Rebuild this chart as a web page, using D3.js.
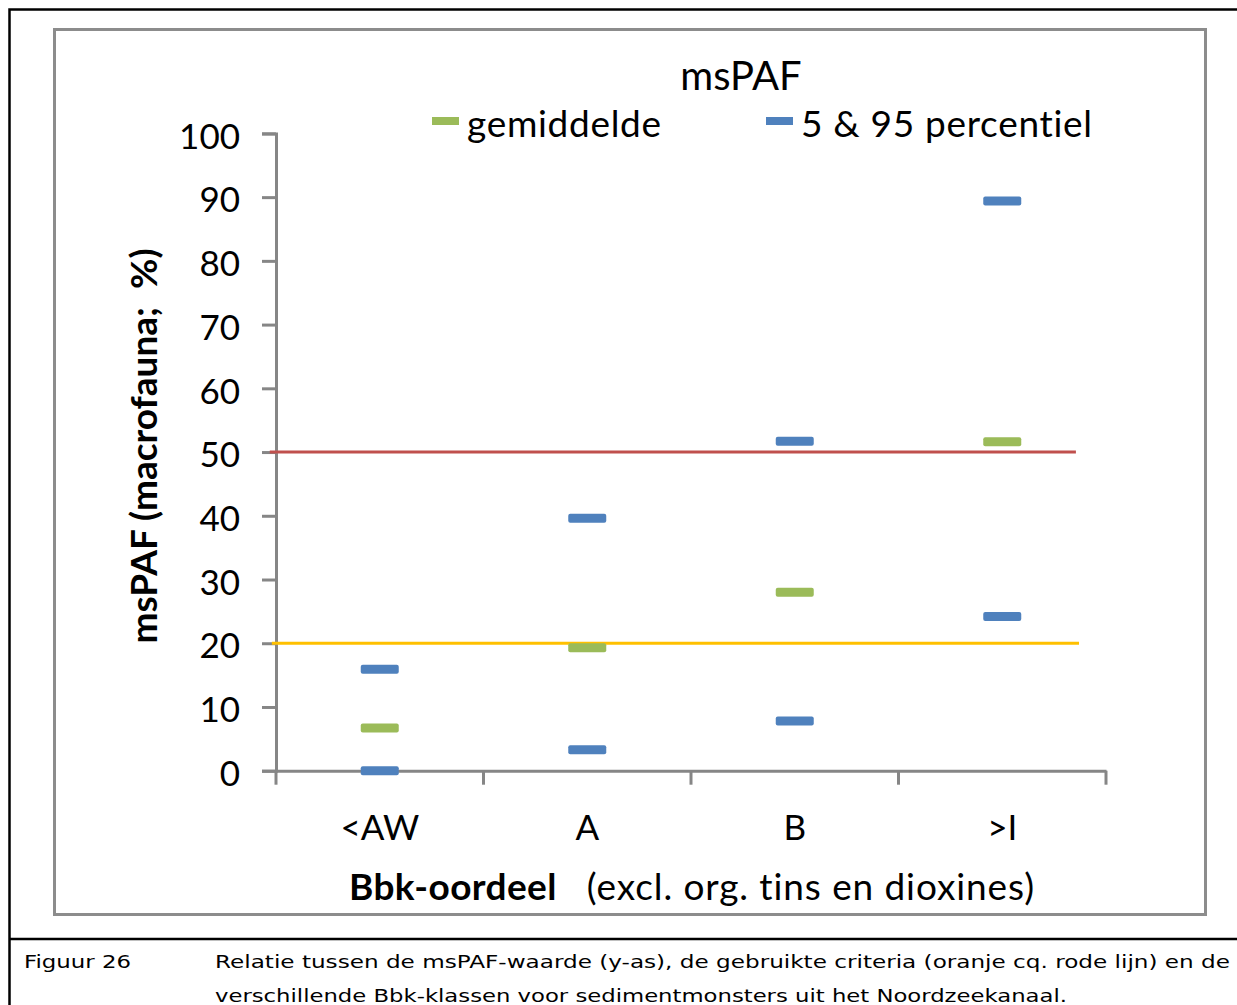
<!DOCTYPE html>
<html>
<head>
<meta charset="utf-8">
<script src="https://cdn.jsdelivr.net/npm/d3@7"></script>
<style>
  html, body { margin: 0; padding: 0; background: #fff; }
  svg { display: block; }
</style>
</head>
<body>
<svg id="fig" width="1237" height="1005"></svg>
<script>
// Bbk classes on the x axis
const categories = ["<AW", "A", "B", ">I"];
// mean msPAF per class (%)
const meanValues = [6.7, 19.3, 28.0, 51.6];
// 5th and 95th percentile per class (%)
const p5Values = [0.0, 3.3, 7.8, 24.2];
const p95Values = [15.9, 39.6, 51.7, 89.4];
// y axis ticks
const yTicks = [0, 10, 20, 30, 40, 50, 60, 70, 80, 90, 100];
// criteria lines (msPAF %)
const criteriaNames = ["oranje", "rood"];
const criteriaValues = [20, 50];

const legendLabels = ["gemiddelde", "5 & 95 percentiel"];
const chartTitle = "msPAF";
const yTitle = "msPAF (macrofauna;  %)";
const captionLabel = "Figuur 26";
const captionLines = [
  "Relatie tussen de msPAF-waarde (y-as), de gebruikte criteria (oranje cq. rode lijn) en de",
  "verschillende Bbk-klassen voor sedimentmonsters uit het Noordzeekanaal."
];

const GREEN = "#9bbb59", BLUE = "#4f81bd", AXIS = "#868686";
const criteriaColors = { oranje: "#ffc000", rood: "#c0504d" };
const chartFont = "Lato, 'Open Sans', sans-serif";

const svg = d3.select("#fig");

// outer figure frame (right edge runs off the page)
svg.append("path")
  .attr("d", "M1240,9.5 H9.5 V1010")
  .attr("fill", "none").attr("stroke", "#000").attr("stroke-width", 2.5);
svg.append("line")
  .attr("x1", 9).attr("x2", 1240).attr("y1", 939).attr("y2", 939)
  .attr("stroke", "#000").attr("stroke-width", 2.5);

// chart area border
svg.append("rect")
  .attr("x", 54.5).attr("y", 29.5).attr("width", 1151).attr("height", 885)
  .attr("fill", "#fff").attr("stroke", "#8c8c8c").attr("stroke-width", 3);

const x = d3.scaleBand().domain(categories).range([276, 1106]).padding(0);
const y = d3.scaleLinear().domain([0, 100]).range([770.7, 133.4]);
// continuous x position in category units for the criteria lines
const xc = d3.scaleLinear().domain([0, categories.length]).range([276, 1106]);

// y axis
const yAxis = svg.append("g")
  .attr("transform", "translate(276,0)")
  .call(d3.axisLeft(y).tickValues(yTicks).tickSize(14).tickPadding(22));
yAxis.select(".domain").attr("stroke", AXIS).attr("stroke-width", 3);
yAxis.selectAll(".tick line").attr("stroke", AXIS).attr("stroke-width", 3);
yAxis.selectAll(".tick text")
  .attr("fill", "#000").attr("font-family", chartFont).attr("font-size", 35)
  .attr("dy", "0.42em");

// x axis with ticks between categories
const xAxis = svg.append("g")
  .attr("transform", `translate(0,${y(0)})`)
  .call(d3.axisBottom(x).tickSize(0).tickPadding(44));
xAxis.select(".domain").attr("stroke", AXIS).attr("stroke-width", 3);
xAxis.selectAll(".tick text")
  .attr("fill", "#000").attr("font-family", chartFont).attr("font-size", 35);
xAxis.selectAll(".cat-tick")
  .data(d3.range(categories.length + 1))
  .join("line")
  .attr("class", "cat-tick")
  .attr("x1", d => xc(d)).attr("x2", d => xc(d))
  .attr("y1", 0).attr("y2", 14)
  .attr("stroke", AXIS).attr("stroke-width", 3);

// criteria lines
const critExtent = { oranje: [-0.02, 3.87], rood: [-0.03, 3.855] };
svg.selectAll(".criterion")
  .data(criteriaNames.map((n, i) => ({ name: n, value: criteriaValues[i] })))
  .join("line")
  .attr("class", "criterion")
  .attr("x1", d => xc(critExtent[d.name][0]))
  .attr("x2", d => xc(critExtent[d.name][1]))
  .attr("y1", d => y(d.value)).attr("y2", d => y(d.value))
  .attr("stroke", d => criteriaColors[d.name]).attr("stroke-width", 3);

// dash markers
const markW = 38, markH = 9;
function drawMarks(values, color, cls) {
  svg.selectAll("." + cls)
    .data(values.map((v, i) => ({ cat: categories[i], v })))
    .join("rect")
    .attr("class", cls)
    .attr("x", d => x(d.cat) + x.bandwidth() / 2 - markW / 2)
    .attr("y", d => y(d.v) - markH / 2)
    .attr("width", markW).attr("height", markH)
    .attr("rx", 2)
    .attr("fill", color);
}
drawMarks(meanValues, GREEN, "mean");
drawMarks(p5Values, BLUE, "p5");
drawMarks(p95Values, BLUE, "p95");

// title
svg.append("text")
  .attr("x", 741).attr("y", 90)
  .attr("text-anchor", "middle")
  .attr("font-family", chartFont).attr("font-size", 40)
  .text(chartTitle);

// legend
const legendX = [432, 766];
const legendColors = [GREEN, BLUE];
const lg = svg.selectAll(".legend")
  .data(legendLabels)
  .join("g")
  .attr("class", "legend")
  .attr("transform", (d, i) => `translate(${legendX[i]},121)`);
lg.append("rect")
  .attr("x", 0).attr("y", -4).attr("width", 27).attr("height", 8)
  .attr("fill", (d, i) => legendColors[i]);
lg.append("text")
  .attr("x", 35).attr("y", 16)
  .attr("font-family", chartFont).attr("font-size", 37)
  .attr("letter-spacing", 0.7)
  .text(d => d);

// y axis title
svg.append("text")
  .attr("transform", "translate(157,446) rotate(-90)")
  .attr("text-anchor", "middle")
  .attr("font-family", chartFont).attr("font-size", 37).attr("font-weight", "bold")
  .attr("xml:space", "preserve")
  .text(yTitle);

// x axis title
const xt = svg.append("text")
  .attr("x", 349).attr("y", 900)
  .attr("font-family", chartFont).attr("font-size", 37);
xt.append("tspan").attr("font-weight", "bold").attr("letter-spacing", 0.4).text("Bbk-oordeel");
xt.append("tspan").attr("dx", 30).attr("letter-spacing", 0.9).text("(excl. org. tins en dioxines)");

// caption
const capFont = "'DejaVu Sans', Verdana, sans-serif";
svg.append("text")
  .attr("x", 24).attr("y", 968)
  .attr("font-family", capFont).attr("font-size", 18)
  .attr("textLength", 107).attr("lengthAdjust", "spacingAndGlyphs")
  .text(captionLabel);
const captionWidths = [1015, 852];
svg.selectAll(".caption")
  .data(captionLines)
  .join("text")
  .attr("class", "caption")
  .attr("x", 215).attr("y", (d, i) => 968 + i * 34)
  .attr("font-family", capFont).attr("font-size", 18)
  .attr("textLength", (d, i) => captionWidths[i]).attr("lengthAdjust", "spacingAndGlyphs")
  .text(d => d);
</script>
</body>
</html>
